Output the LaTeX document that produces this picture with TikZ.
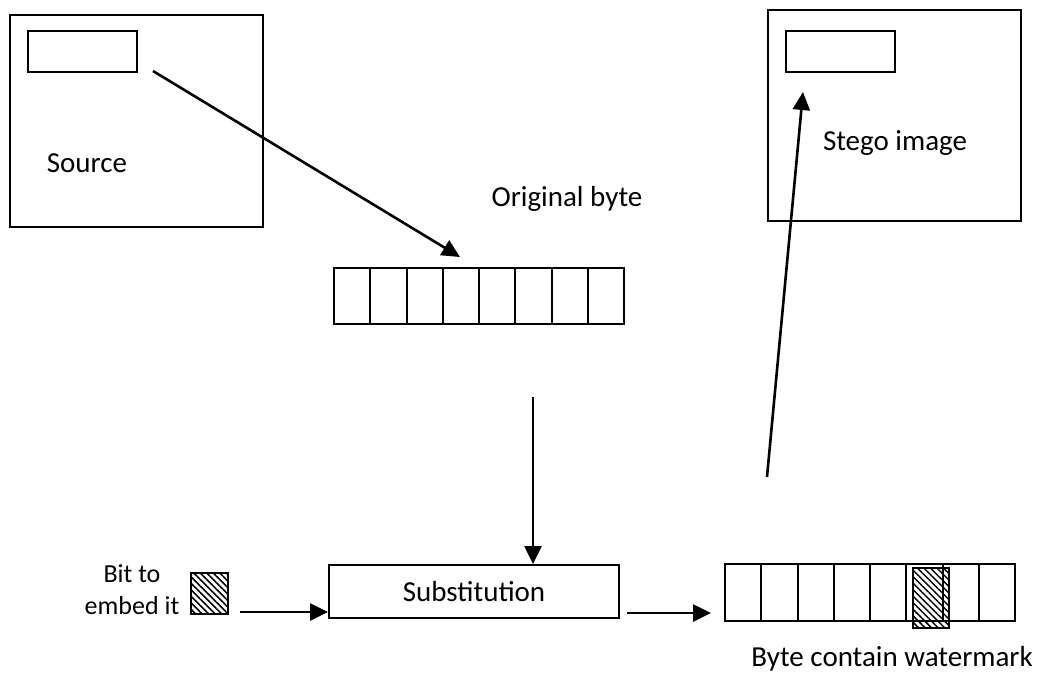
\documentclass[tikz,border=0pt]{standalone}
\usepackage{fontspec}
\setmainfont{Carlito}
\usetikzlibrary{arrows.meta,patterns.meta,positioning}
\tikzset{
  frame/.style={draw=black,line width=2pt,inner sep=0pt,anchor=north west},
  cellbox/.style={frame,minimum width=36.25pt,minimum height=56pt},
  hatched/.style={frame,pattern={Lines[angle=-45,distance=4.6pt,line width=1.5pt]}},
  label/.style={font=\fontsize{29}{35}\selectfont,inner sep=0pt},
  small/.style={font=\fontsize{26}{32}\selectfont,inner sep=0pt,align=center},
  flow/.style={line width=2.6pt,-{Triangle[length=18pt,width=17pt]}}
}
\begin{document}
\begin{tikzpicture}[x=1pt,y=-1pt]
\useasboundingbox (0,0) rectangle (1041,672);

% source image with its pixel block
\node[frame,minimum width=253pt,minimum height=212pt] (src) at (9,14) {};
\node[frame,minimum width=109pt,minimum height=41pt] (srcpix) at (27,30) {};
\node[label] (srclbl) at (87,163) {Source};

% stego image with its pixel block
\node[frame,minimum width=253pt,minimum height=211pt] (stego) at (767,9) {};
\node[frame,minimum width=109pt,minimum height=41pt] (stegopix) at (785,30) {};
\node[label] (stegolbl) at (895,143) {Stego image};

% original byte
\node[label] (origlbl) at (567,199) {Original byte};
\foreach \i in {0,...,7}
  \node[cellbox] (ob\i) at ({333+36.25*\i},267) {};

% substitution step
\node[frame,minimum width=290pt,minimum height=53pt] (subst) at (328,564) {};
\node[label] at (subst.center) {Substitution};

% bit to embed
\node[small] (bitlbl) at (132,590) {Bit to\\embed it};
\node[hatched,minimum width=37pt,minimum height=41pt] (bit) at (190,572) {};

% byte containing the watermark
\foreach \i in {0,...,7}
  \node[cellbox,minimum height=57pt] (wb\i) at ({724+36.25*\i},563) {};
\node[hatched,minimum width=36pt,minimum height=60pt] (wbit) at (912,567) {};
\node[label] (wmlbl) at (892,659) {Byte contain watermark};

% connectors
\coordinate (a1) at (153,71);
\coordinate (a1e) at (460,257);
\draw[flow] (a1) -- (a1e);

\coordinate (a2) at (533,397);
\draw[flow] (a2) -- (subst.north -| a2);

\coordinate (a3) at (240,612);
\draw[flow] (a3) -- (a3 -| subst.west);

\coordinate (a4) at (627,613);
\coordinate (a4e) at (711,613);
\draw[flow] (a4) -- (a4e);

\coordinate (a5) at (767,477);
\coordinate (a5e) at (803,92);
\draw[flow] (a5) -- (a5e);
\end{tikzpicture}
\end{document}
